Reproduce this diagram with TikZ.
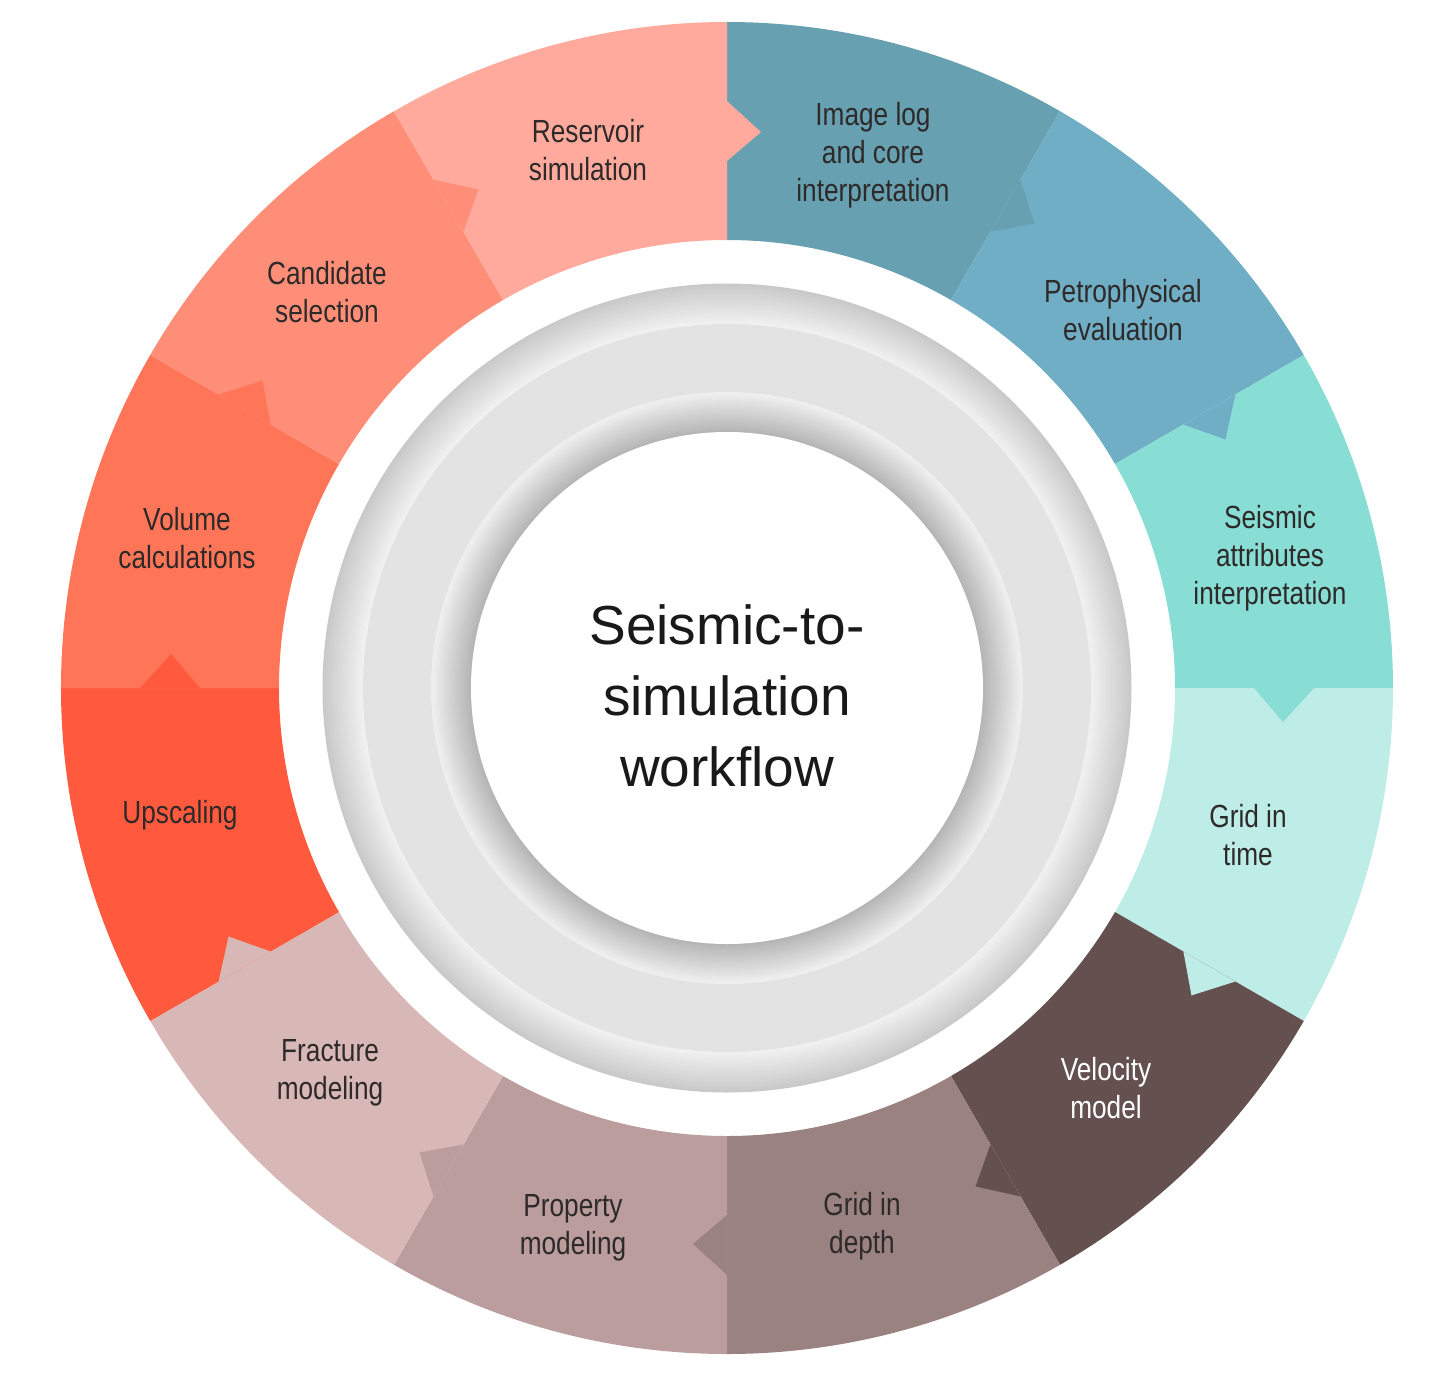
\documentclass[tikz,border=0pt]{standalone}
\usepackage{fontspec}
\setmainfont{Liberation Sans}
\newfontfamily\narrowfont{Liberation Sans}[FakeStretch=0.82]
\definecolor{cA}{HTML}{67A0B0}
\definecolor{cB}{HTML}{70AEC5}
\definecolor{cC}{HTML}{88DDD4}
\definecolor{cD}{HTML}{BEEDE7}
\definecolor{cE}{HTML}{63504F}
\definecolor{cF}{HTML}{9A8281}
\definecolor{cG}{HTML}{BB9D9D}
\definecolor{cH}{HTML}{D8B8B6}
\definecolor{cI}{HTML}{FF5A3E}
\definecolor{cJ}{HTML}{FF7558}
\definecolor{cK}{HTML}{FF8E78}
\definecolor{cL}{HTML}{FFAA9C}
\definecolor{txt}{HTML}{2E2A2A}
\tikzstyle{step label} =[text=txt, font=\narrowfont\fontsize{32}{38}\selectfont,
align=center]

\begin{document}
\begin{tikzpicture}[x=1pt, y=1pt]
\useasboundingbox (-727,-705) rectangle (715,688);
% sectors
\foreach \i/\c in {0/cA,1/cB,2/cC,3/cD,4/cE,5/cF,6/cG,7/cH,8/cI,9/cJ,10/cK,11/cL}
{
	\fill[\c] ({90-30*\i}:448) -- ({90-30*\i}:666)
	arc[start angle={90-30*\i}, end angle={60-30*\i}, radius=666]
	-- ({60-30*\i}:448)
	arc[start angle={60-30*\i}, end angle={90-30*\i}, radius=448] -- cycle;
}
% arrow tabs
\foreach \i/\c in {0/cA,1/cB,2/cC,3/cD,4/cE,5/cF,6/cG,7/cH,8/cI,9/cJ,10/cK,11/cL}
{
	\fill[\c] ({60-30*\i}:527) -- ({60-30*\i}:587) -- ({56.5-30*\i}:557) -- cycle;
}
% inner ring
\fill[gray!22] (0,0) circle[radius=403];
\foreach \k in {0,...,15}
{
	\draw[line width=3, gray!\the\numexpr 42-\k*2\relax] (0,0) circle[radius={403-\k*2.5}];
	\draw[line width=3, gray!\the\numexpr 58-\k*3\relax] (0,0) circle[radius={257+\k*2.5}];
}
\fill[white] (0,0) circle[radius=256];
\node[font=\fontsize{55}{71}\selectfont, text=black!90, align=center] (title) at (0,-8)
{Seismic-to-\\simulation\\workflow};
% labels
\node[step label] (imagelog) at (146,533) {Image log\\and core\\interpretation};
\node[step label] (petro) at (396,378) {Petrophysical\\evaluation};
\node[step label] (attrib) at (543,130) {Seismic\\attributes\\interpretation};
\node[step label] (gridtime) at (521,-147) {Grid in\\time};
\node[step label, text=white] (velocity) at (379,-400) {Velocity\\model};
\node[step label] (griddepth) at (135,-538) {Grid in\\depth};
\node[step label] (property) at (-154,-540) {Property\\modeling};
\node[step label] (fracture) at (-397,-385) {Fracture\\modeling};
\node[step label] (upscaling) at (-547,-127) {Upscaling};
\node[step label] (volume) at (-540,150) {Volume\\calculations};
\node[step label] (candidate) at (-400,396) {Candidate\\selection};
\node[step label] (reservoir) at (-139,538) {Reservoir\\simulation};
\end{tikzpicture}
\end{document}
